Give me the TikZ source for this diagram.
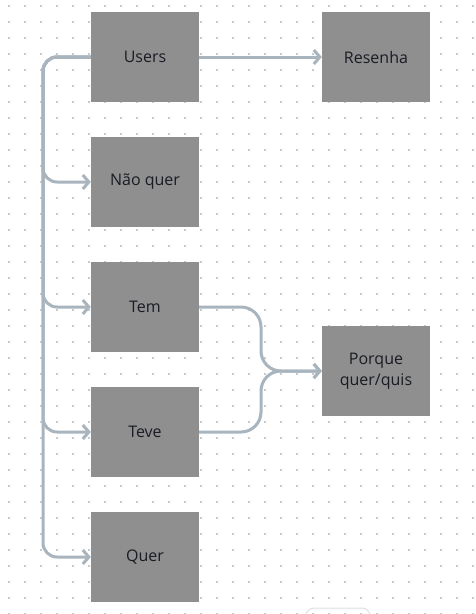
\documentclass[tikz,border=0pt]{standalone}
\usepackage{fontspec}
\setmainfont{Open Sans}
\usetikzlibrary{arrows.meta}
\definecolor{boxgray}{HTML}{8F8F8F}
\definecolor{linkc}{HTML}{A9B5BE}
\definecolor{dotc}{HTML}{C8CAD2}
\definecolor{txt}{HTML}{1A1C24}
\tikzset{
  box/.style={fill=boxgray, draw=none, minimum width=108pt, minimum height=90pt, inner sep=0pt, align=center, text=txt, font=\fontsize{16}{21}\selectfont},
  link/.style={draw=linkc, line width=3pt, rounded corners=14pt, -{Straight Barb[length=6pt,width=14pt,line width=3pt]}},
  curvelink/.style={link, rounded corners=20pt},
  trunk/.style={draw=linkc, line width=3pt, rounded corners=14pt}
}
\begin{document}
\begin{tikzpicture}[x=1pt,y=-1pt]
\useasboundingbox (0,0) rectangle (475,614);
\fill[white] (0,0) rectangle (475,614);
\foreach \i in {0,...,29}{
  \foreach \j in {0,...,38}{
    \fill[dotc] ({9+16*\i-1},{6+16*\j-1}) rectangle ++(2,2);
  }
}
\draw[draw=black!12, line width=1pt, rounded corners=8pt] (306,630) rectangle (370,608);
\node[box] (users) at (145,57) {Users};
\node[box] (resenha) at (376,57) {Resenha};
\node[box] (nao) at (145,182) {Não quer};
\node[box] (tem) at (145,307) {Tem};
\node[box] (teve) at (145,432) {Teve};
\node[box] (quer) at (145,557) {Quer};
\node[box] (porque) at (376,371) {Porque\\quer/quis};
\coordinate (ctop) at (43,57);
\draw[link] (users.east) -- (resenha.west);
\draw[link] (users.west) -- (ctop) -- (43,182) -- (nao.west);
\draw[link] (users.west) -- (ctop) -- (43,307) -- (tem.west);
\draw[link] (users.west) -- (ctop) -- (43,432) -- (teve.west);
\draw[link] (users.west) -- (ctop) -- (43,557) -- (quer.west);
\draw[curvelink] (tem.east) -- (261,307) -- (261,371) -- (porque.west);
\draw[curvelink] (teve.east) -- (261,432) -- (261,371) -- (porque.west);
\end{tikzpicture}
\end{document}
